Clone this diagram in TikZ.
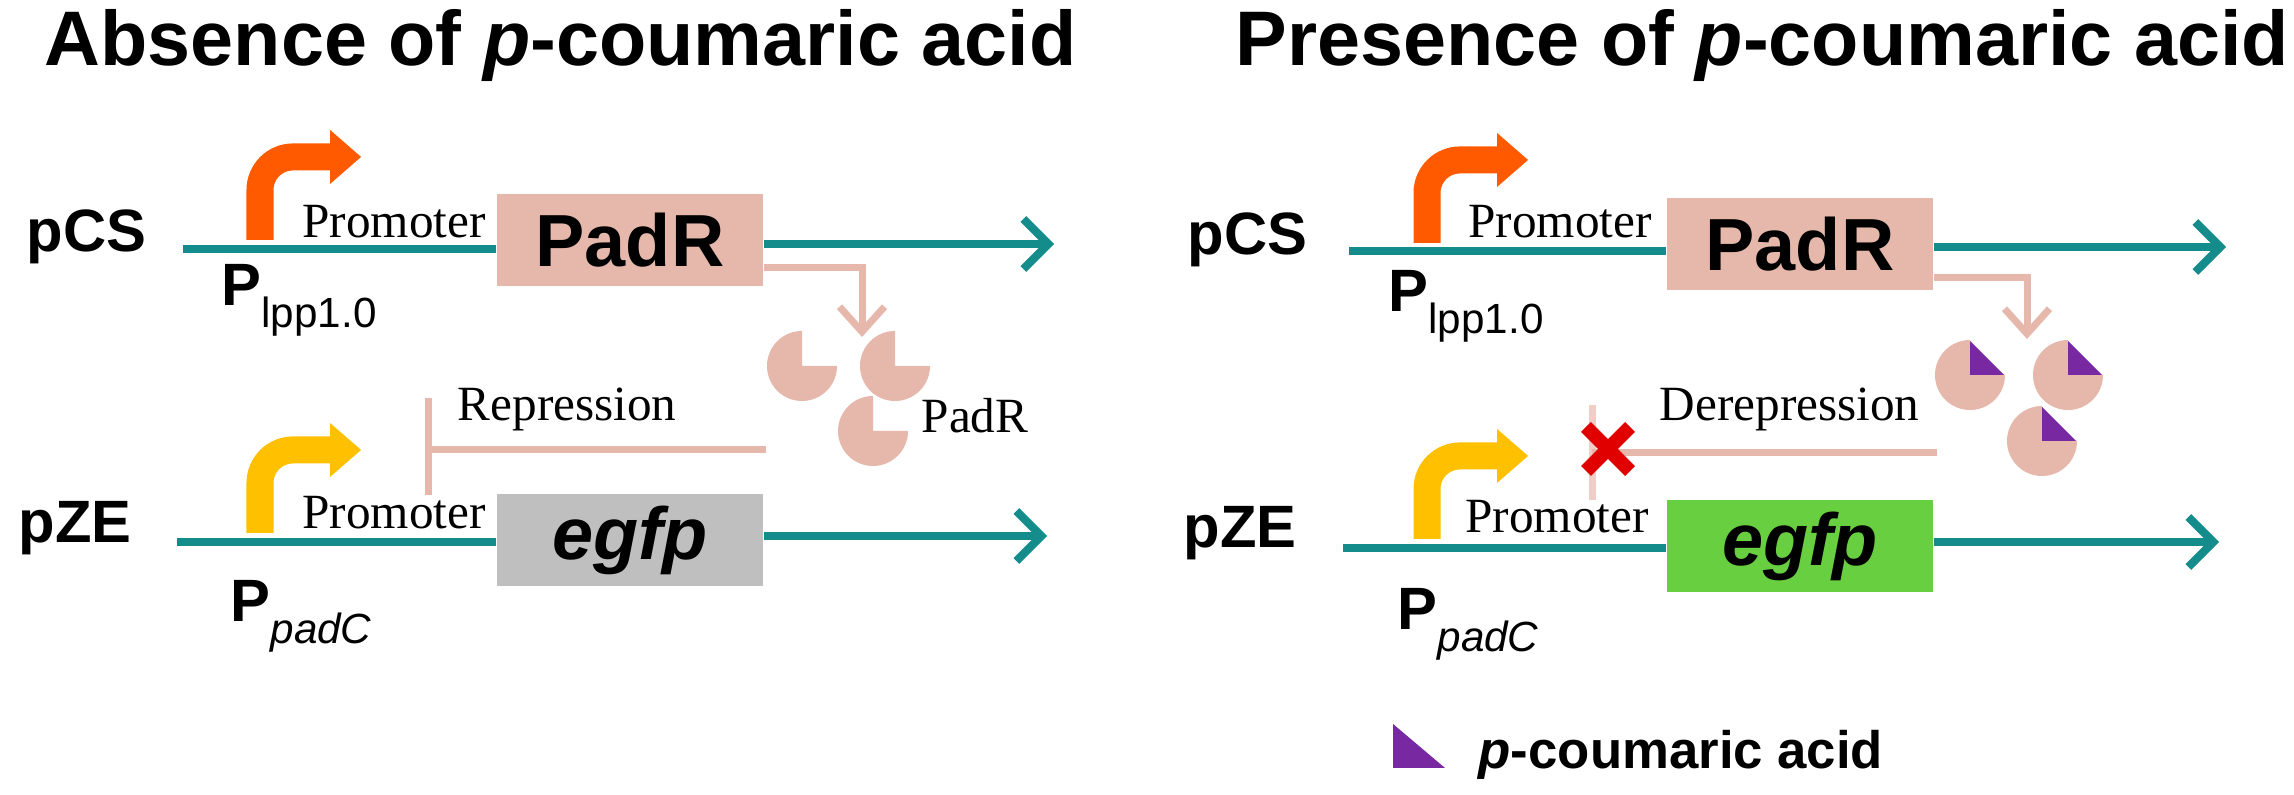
\documentclass[tikz,border=0pt]{standalone}
\usepackage{fontspec}
\setmainfont{Liberation Sans}
\newfontfamily\romanfont{Liberation Serif}
\usetikzlibrary{arrows.meta}

\definecolor{dnateal}{RGB}{20,140,140}
\definecolor{padpink}{RGB}{230,184,172}
\definecolor{barpink}{RGB}{240,205,198}
\definecolor{promorange}{RGB}{255,90,0}
\definecolor{promyellow}{RGB}{255,192,0}
\definecolor{egfpgray}{RGB}{191,191,191}
\definecolor{egfpgreen}{RGB}{104,208,64}
\definecolor{acidpurple}{RGB}{120,40,160}
\definecolor{crossred}{RGB}{225,0,0}

\tikzset{
  title/.style={anchor=west, inner sep=0pt, font=\fontsize{22}{26}\selectfont\bfseries},
  plasmid/.style={anchor=west, inner sep=0pt, font=\fontsize{17}{20}\selectfont\bfseries},
  gene/.style={minimum width=2.66cm, minimum height=0.92cm, inner sep=0pt,
    font=\fontsize{21}{24}\selectfont\bfseries},
  small/.style={inner sep=0pt, font=\romanfont\fontsize{14}{16}\selectfont},
  pname/.style={anchor=west, inner sep=0pt, font=\fontsize{17}{20}\selectfont\bfseries},
  dna/.style={dnateal, line width=0.08cm, -{Straight Barb[length=0.25cm,width=0.5cm,line width=0.08cm]}},
  dnaline/.style={dnateal, line width=0.08cm},
  pinkarrow/.style={padpink, line width=0.07cm, -{Straight Barb[length=0.25cm,width=0.45cm,line width=0.07cm]}},
  pinkline/.style={padpink, line width=0.07cm},
  bent/.style={line width=0.27cm},
}

% subscript of the promoter names
\newcommand{\promsub}[1]{\raisebox{-0.7ex}{\fontsize{12}{12}\selectfont\mdseries #1}}

% bent promoter arrow: (x,y) is the foot of the stem
\newcommand{\bentarrow}[3]{%
  \draw[bent, #3] (#1,#2) -- ++(0,0.5cm) arc[start angle=180, end angle=90, radius=0.33cm] -- ++(0.38cm,0);
  \fill[#3] (#1,#2) ++(0.7cm,1.1cm) -- ++(0.31cm,-0.27cm) -- ++(-0.31cm,-0.27cm) -- cycle;
}

% PadR monomer, optionally with bound acid
\newcommand{\padmono}[2]{%
  \fill[padpink] (#1,#2) -- ++(0.35cm,0) arc[start angle=0, end angle=-270, radius=0.35cm] -- cycle;
}
\newcommand{\acid}[2]{%
  \fill[acidpurple] (#1,#2) -- ++(0,0.34cm) -- ++(0.34cm,-0.34cm) -- cycle;
}

\begin{document}
\begin{tikzpicture}[x=0.01cm, y=-0.01cm]
  \useasboundingbox (0,0) rectangle (2294,795);

  % ---------- left panel ----------
  \node[title] (titleL) at (44,46) {Absence of \textit{p}-coumaric acid};

  \node[plasmid] (pcsL) at (26,237) {pCS};
  \node[gene, fill=padpink] (padrL) at (630,240) {PadR};
  \coordinate (pcsLa) at (183,249);
  \coordinate (pcsLb) at (1054,244);
  \draw[dnaline] (pcsLa) -- (pcsLa -| padrL.west);
  \draw[dna] (padrL.east |- pcsLb) -- (pcsLb);
  \bentarrow{260}{240}{promorange}
  \node[small] (promL1) at (394,222) {Promoter};
  \node[pname] (plppL) at (221,300) {P\promsub{lpp1.0}};

  \padmono{802}{366}
  \padmono{895}{366}
  \padmono{873}{431}
  \node[small, anchor=west] (monoL) at (921,416) {PadR};
  \coordinate (padoutL) at (862,337);
  \draw[pinkarrow] (padrL.east |- 0,268) -| (padoutL);

  \node[plasmid] (pzeL) at (18,528) {pZE};
  \node[gene, fill=egfpgray, font=\fontsize{21}{24}\selectfont\bfseries\itshape] (egfpL) at (630,540) {egfp};
  \coordinate (pzeLa) at (177,542);
  \coordinate (pzeLb) at (1047,536);
  \draw[dnaline] (pzeLa) -- (pzeLa -| egfpL.west);
  \draw[dna] (egfpL.east |- pzeLb) -- (pzeLb);
  \bentarrow{260}{533}{promyellow}
  \node[small] (promL2) at (394,513) {Promoter};
  \node[pname] (ppadL) at (230,616) {P\promsub{\itshape padC}};

  \coordinate (repL) at (766,450);
  \coordinate (barL) at (428,450);
  \draw[pinkline] (repL) -- (barL);
  \draw[pinkline] (barL |- 0,398) -- (barL |- 0,495);
  \node[small, anchor=west] (repTxt) at (457,409) {Repression};

  % ---------- right panel ----------
  \node[title] (titleR) at (1235,46) {Presence of \textit{p}-coumaric acid};

  \node[plasmid] (pcsR) at (1187,240) {pCS};
  \node[gene, fill=padpink] (padrR) at (1800,244) {PadR};
  \coordinate (pcsRa) at (1349,251);
  \coordinate (pcsRb) at (2226,247);
  \draw[dnaline] (pcsRa) -- (pcsRa -| padrR.west);
  \draw[dna] (padrR.east |- pcsRb) -- (pcsRb);
  \bentarrow{1427}{243}{promorange}
  \node[small] (promR1) at (1560,222) {Promoter};
  \node[pname] (plppR) at (1388,306) {P\promsub{lpp1.0}};

  \padmono{1970}{375} \acid{1970}{375}
  \padmono{2068}{375} \acid{2068}{375}
  \padmono{2042}{441} \acid{2042}{441}
  \coordinate (padoutR) at (2027,339);
  \draw[pinkarrow] (padrR.east |- 0,278) -| (padoutR);

  \node[plasmid] (pzeR) at (1183,533) {pZE};
  \node[gene, fill=egfpgreen, font=\fontsize{21}{24}\selectfont\bfseries\itshape] (egfpR) at (1800,546) {egfp};
  \coordinate (pzeRa) at (1343,548);
  \coordinate (pzeRb) at (2219,542);
  \draw[dnaline] (pzeRa) -- (pzeRa -| egfpR.west);
  \draw[dna] (egfpR.east |- pzeRb) -- (pzeRb);
  \bentarrow{1427}{539}{promyellow}
  \node[small] (promR2) at (1557,517) {Promoter};
  \node[pname] (ppadR) at (1397,624) {P\promsub{\itshape padC}};

  \coordinate (derepR) at (1937,453);
  \coordinate (barR) at (1592,453);
  \draw[barpink, line width=0.07cm] (barR |- 0,405) -- (barR |- 0,500);
  \draw[pinkline] (derepR) -- (barR);
  \node[small, anchor=west] (derepTxt) at (1659,409) {Derepression};
  \coordinate (cross) at (1608,449);
  \draw[crossred, line width=0.14cm] (cross) ++(-0.22cm,-0.22cm) -- ++(0.44cm,0.44cm);
  \draw[crossred, line width=0.14cm] (cross) ++(-0.22cm,0.22cm) -- ++(0.44cm,-0.44cm);

  % legend
  \fill[acidpurple] (1393,724) -- (1393,768) -- (1445,768) -- cycle;
  \node[anchor=west, inner sep=0pt, font=\fontsize{15}{18}\selectfont\bfseries] (legend) at (1478,755) {\textit{p}-coumaric acid};
\end{tikzpicture}
\end{document}
